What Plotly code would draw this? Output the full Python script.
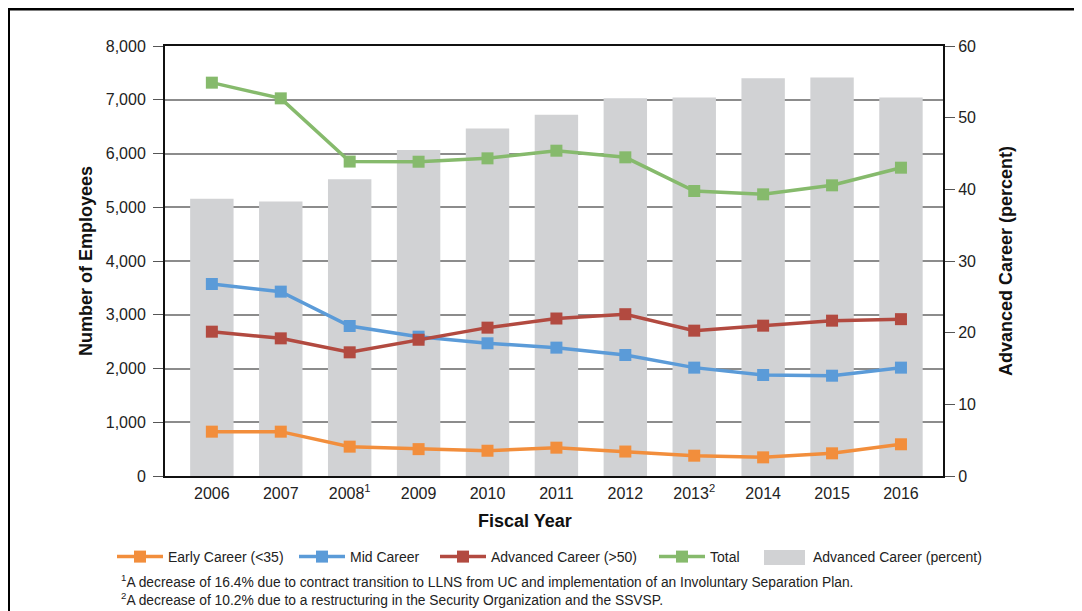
import plotly.graph_objects as go

years = ["2006", "2007", "2008<sup>1</sup>", "2009", "2010", "2011", "2012",
         "2013<sup>2</sup>", "2014", "2015", "2016"]
early = [825, 825, 546, 500, 470, 527, 455, 378, 347, 422, 590]
mid = [3572, 3430, 2791, 2592, 2469, 2388, 2251, 2016, 1879, 1866, 2016]
advanced = [2685, 2561, 2301, 2535, 2760, 2930, 3010, 2704, 2797, 2890, 2918]
total = [7318, 7026, 5850, 5847, 5910, 6052, 5929, 5302, 5240, 5408, 5736]
adv_pct = [38.7, 38.3, 41.4, 45.5, 48.5, 50.4, 52.7, 52.8, 55.5, 55.6, 52.8]

FONT = "Arial, Liberation Sans, sans-serif"
W, H = 1082, 611
OFF = 8  # page body margin offset
L, R, T, B = 165 - OFF, 943 - OFF, 46 - OFF, 476 - OFF
BAR_COLOR = "#D1D2D4"


def px(x):
    return (x - OFF - L) / (R - L)


def py(y):
    return (B - (y - OFF)) / (B - T)


def cx(x):
    return (x - OFF) / W


def cy(y):
    return 1 - (y - OFF) / H


fig = go.Figure()
fig.add_trace(go.Bar(x=years, y=adv_pct, name="Advanced Career (percent)",
                     marker=dict(color=BAR_COLOR, line=dict(width=0)),
                     width=0.63, yaxis="y", legend="legend5"))

series = [
    ("Early Career (<35)", early, "#F28E3C", "legend"),
    ("Mid Career", mid, "#5B9BD8", "legend2"),
    ("Advanced Career (>50)", advanced, "#B24A40", "legend3"),
    ("Total", total, "#86BA6C", "legend4"),
]
for name, vals, col, lg in series:
    fig.add_trace(go.Scatter(x=years, y=vals, name=name, mode="lines+markers",
                             line=dict(color=col, width=3.5),
                             marker=dict(symbol="square", size=12, color=col),
                             yaxis="y2", legend=lg))

TXT = "#222222"
ITEMW = 46
legend_common = dict(orientation="h", xref="container", yref="container",
                     xanchor="left", yanchor="middle", itemwidth=ITEMW,
                     bgcolor="rgba(0,0,0,0)",
                     font=dict(size=14, color=TXT))
text_starts = [168, 350, 491, 710, 813]
legends = {}
for k, ts in enumerate(text_starts):
    key = "legend" if k == 0 else f"legend{k + 1}"
    legends[key] = dict(x=cx(ts - ITEMW - 10), y=cy(557), **legend_common)

fig.update_layout(
    width=W, height=H,
    margin=dict(l=L, r=W - R, t=T, b=H - B, autoexpand=False),
    plot_bgcolor="white", paper_bgcolor="white",
    font=dict(family=FONT, size=16, color=TXT),
    showlegend=True,
    xaxis=dict(type="category", range=[-0.68, 10.61], showline=True,
               linecolor="#111111", linewidth=2, mirror=True, ticks="",
               ticklabelstandoff=2, tickfont=dict(size=16, color=TXT)),
    yaxis=dict(side="right", range=[0, 60], dtick=10, showgrid=False,
               showline=True, linecolor="#111111", linewidth=2,
               ticks="outside", ticklen=10, tickcolor="#555555",
               tickfont=dict(size=16, color=TXT), zeroline=False),
    yaxis2=dict(overlaying="y", side="left", range=[0, 8000], dtick=1000,
                tickformat=",", showgrid=True, gridcolor="#8C8C8C",
                gridwidth=1.5, showline=True, linecolor="#111111",
                linewidth=2, ticks="outside", ticklen=10,
                tickcolor="#555555", zeroline=False, ticklabelstandoff=4,
                tickfont=dict(size=16, color=TXT)),
    annotations=[
        dict(text="<b>Number of Employees</b>", x=px(86), y=py(261),
             xref="paper", yref="paper", showarrow=False, textangle=-90,
             xanchor="center", yanchor="middle",
             font=dict(size=18, color="#111111")),
        dict(text="<b>Advanced Career (percent)</b>", x=px(1006), y=py(261),
             xref="paper", yref="paper", showarrow=False, textangle=-90,
             xanchor="center", yanchor="middle",
             font=dict(size=18, color="#111111")),
        dict(text="<b>Fiscal Year</b>", x=px(525), y=py(521),
             xref="paper", yref="paper", showarrow=False,
             xanchor="center", yanchor="middle",
             font=dict(size=18, color="#111111")),
        dict(text="<sup>1</sup>A decrease of 16.4% due to contract transition to LLNS from UC and implementation of an Involuntary Separation Plan.",
             x=px(119), y=py(581), xref="paper", yref="paper", xanchor="left",
             yanchor="middle", showarrow=False,
             font=dict(size=13.8, color=TXT)),
        dict(text="<sup>2</sup>A decrease of 10.2% due to a restructuring in the Security Organization and the SSVSP.",
             x=px(119), y=py(599), xref="paper", yref="paper", xanchor="left",
             yanchor="middle", showarrow=False,
             font=dict(size=13.8, color=TXT)),
    ],
    shapes=[
        dict(type="line", xref="paper", yref="paper", x0=px(OFF), x1=px(OFF),
             y0=py(OFF), y1=py(640), line=dict(color="#000000", width=4)),
        dict(type="line", xref="paper", yref="paper", x0=px(OFF), x1=px(1100),
             y0=py(OFF + 1), y1=py(OFF + 1), line=dict(color="#000000", width=3)),
        # wide grey swatch for the bar legend entry
        dict(type="rect", xref="paper", yref="paper", x0=px(764), x1=px(805),
             y0=py(565), y1=py(550), fillcolor=BAR_COLOR, line=dict(width=0),
             layer="above"),
    ],
    **legends,
)

fig.write_html("out.html")
